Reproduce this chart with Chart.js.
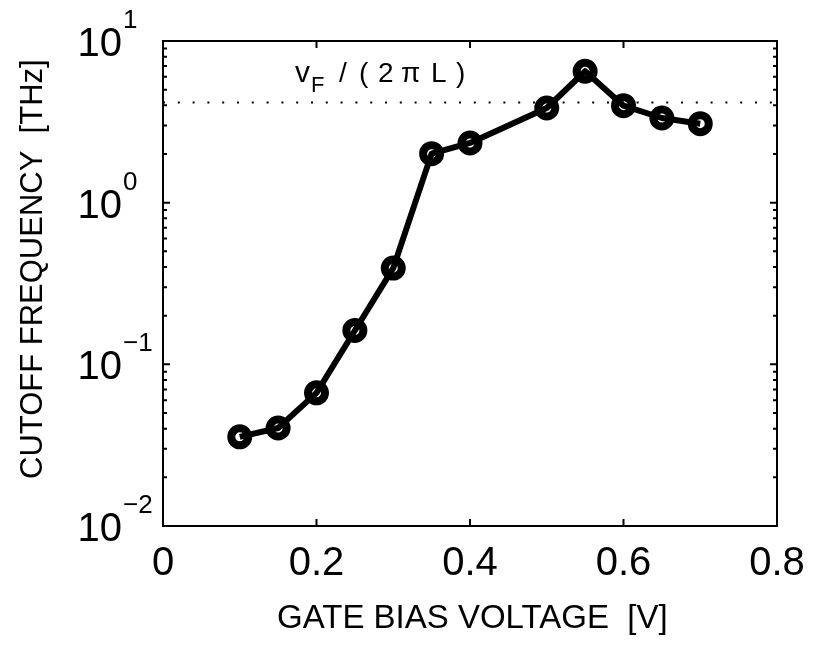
<!DOCTYPE html>
<html><head><meta charset="utf-8">
<script src="https://cdn.jsdelivr.net/npm/chart.js@4.4.0/dist/chart.umd.min.js"></script>
<style>html,body{margin:0;padding:0;background:#fff;} #wrap{width:813px;height:645px;}</style>
</head><body><div id="wrap"><canvas id="c" width="813" height="645"></canvas></div>
<script>
const gateVoltage = [0.1, 0.15, 0.2, 0.25, 0.3, 0.35, 0.4, 0.5, 0.55, 0.6, 0.65, 0.7];
const cutoffTHz   = [0.0356, 0.0404, 0.0666, 0.162, 0.394, 2.01, 2.34, 3.85, 6.5, 3.98, 3.34, 3.08];
const vfLimitTHz = 4.17;
const xTicks = [0, 0.2, 0.4, 0.6, 0.8];
const xTickLabels = ['0', '0.2', '0.4', '0.6', '0.8'];
const yTicks = [0.01, 0.1, 1, 10];
const yTickExponents = ['\u22122', '\u22121', '0', '1'];
const xTitle = 'GATE BIAS VOLTAGE  [V]';
const yTitle = 'CUTOFF FREQUENCY  [THz]';

const FONT = '"Liberation Sans", Arial, Helvetica, sans-serif';

const axesPlugin = {
  id: 'matlabAxes',
  afterDatasetsDraw(chart) {
    const ctx = chart.ctx, a = chart.chartArea;
    const xs = chart.scales.x, ys = chart.scales.y;
    ctx.save();
    ctx.strokeStyle = '#000';
    ctx.lineWidth = 2;
    ctx.lineCap = 'butt';
    ctx.strokeRect(a.left, a.top, a.right - a.left, a.bottom - a.top);
    ctx.beginPath();
    xTicks.forEach(v => {
      const px = xs.getPixelForValue(v);
      ctx.moveTo(px, a.bottom); ctx.lineTo(px, a.bottom - 7);
      ctx.moveTo(px, a.top); ctx.lineTo(px, a.top + 7);
    });
    yTicks.forEach(v => {
      const py = ys.getPixelForValue(v);
      ctx.moveTo(a.left, py); ctx.lineTo(a.left + 7, py);
      ctx.moveTo(a.right, py); ctx.lineTo(a.right - 7, py);
    });
    for (let d = 0; d < yTicks.length - 1; d++) {
      for (let k = 2; k <= 9; k++) {
        const py = ys.getPixelForValue(k * yTicks[d]);
        ctx.moveTo(a.left, py); ctx.lineTo(a.left + 4, py);
        ctx.moveTo(a.right, py); ctx.lineTo(a.right - 4, py);
      }
    }
    ctx.stroke();
    ctx.restore();
  },
  afterDraw(chart) {
    const ctx = chart.ctx;
    const xs = chart.scales.x, ys = chart.scales.y;
    ctx.save();
    ctx.fillStyle = '#000';
    ctx.font = '40px ' + FONT;
    ctx.textAlign = 'center';
    ctx.textBaseline = 'alphabetic';
    xTicks.forEach((v, i) => {
      ctx.fillText(xTickLabels[i], xs.getPixelForValue(v), 575);
    });
    yTicks.forEach((v, i) => {
      const py = ys.getPixelForValue(v);
      ctx.font = '40px ' + FONT;
      ctx.textAlign = 'right';
      ctx.fillText('10', 122, py + 15);
      ctx.font = '26px ' + FONT;
      ctx.textAlign = 'left';
      ctx.fillText(yTickExponents[i], 123, py - 13);
    });
    ctx.font = '33px ' + FONT;
    ctx.textAlign = 'left';
    ctx.fillText(xTitle, 277, 628);
    ctx.save();
    ctx.translate(42, 479);
    ctx.rotate(-Math.PI / 2);
    ctx.font = '31px ' + FONT;
    ctx.textAlign = 'left';
    ctx.fillText(yTitle, 0, 0);
    ctx.restore();
    // annotation  v_F / ( 2 pi L )
    ctx.textAlign = 'left';
    ctx.font = '30px ' + FONT;
    ctx.fillText('v', 295, 82);
    ctx.font = '22px ' + FONT;
    ctx.fillText('F', 311, 92);
    ctx.font = '28px ' + FONT;
    [['/', 339], ['(', 359], ['2', 378], ['\u03c0', 401], ['L', 431], [')', 456]].forEach(([t, x]) => {
      ctx.fillText(t, x, 82);
    });
    ctx.restore();
  }
};

new Chart(document.getElementById('c').getContext('2d'), {
  type: 'line',
  data: {
    datasets: [
      {
        data: gateVoltage.map((x, i) => ({ x, y: cutoffTHz[i] })),
        borderColor: '#000',
        borderWidth: 6,
        borderJoinStyle: 'round',
        pointRadius: 8.5,
        pointBorderWidth: 8,
        pointBorderColor: '#000',
        pointBackgroundColor: 'rgba(0,0,0,0)',
        tension: 0,
        fill: false,
        clip: false,
        order: 0
      },
      {
        data: [{ x: 0, y: vfLimitTHz }, { x: 0.8, y: vfLimitTHz }],
        borderColor: '#000',
        borderWidth: 2,
        borderDash: [2, 12.8],
        pointRadius: 0,
        fill: false,
        order: 1
      }
    ]
  },
  options: {
    responsive: false,
    animation: false,
    devicePixelRatio: 1,
    events: [],
    layout: { padding: { left: 163, top: 41, right: 36, bottom: 119 } },
    plugins: { legend: { display: false }, tooltip: { enabled: false } },
    scales: {
      x: { type: 'linear', min: 0, max: 0.8, display: false },
      y: { type: 'logarithmic', min: 0.01, max: 10, display: false }
    }
  },
  plugins: [axesPlugin]
});
</script>
</body></html>
